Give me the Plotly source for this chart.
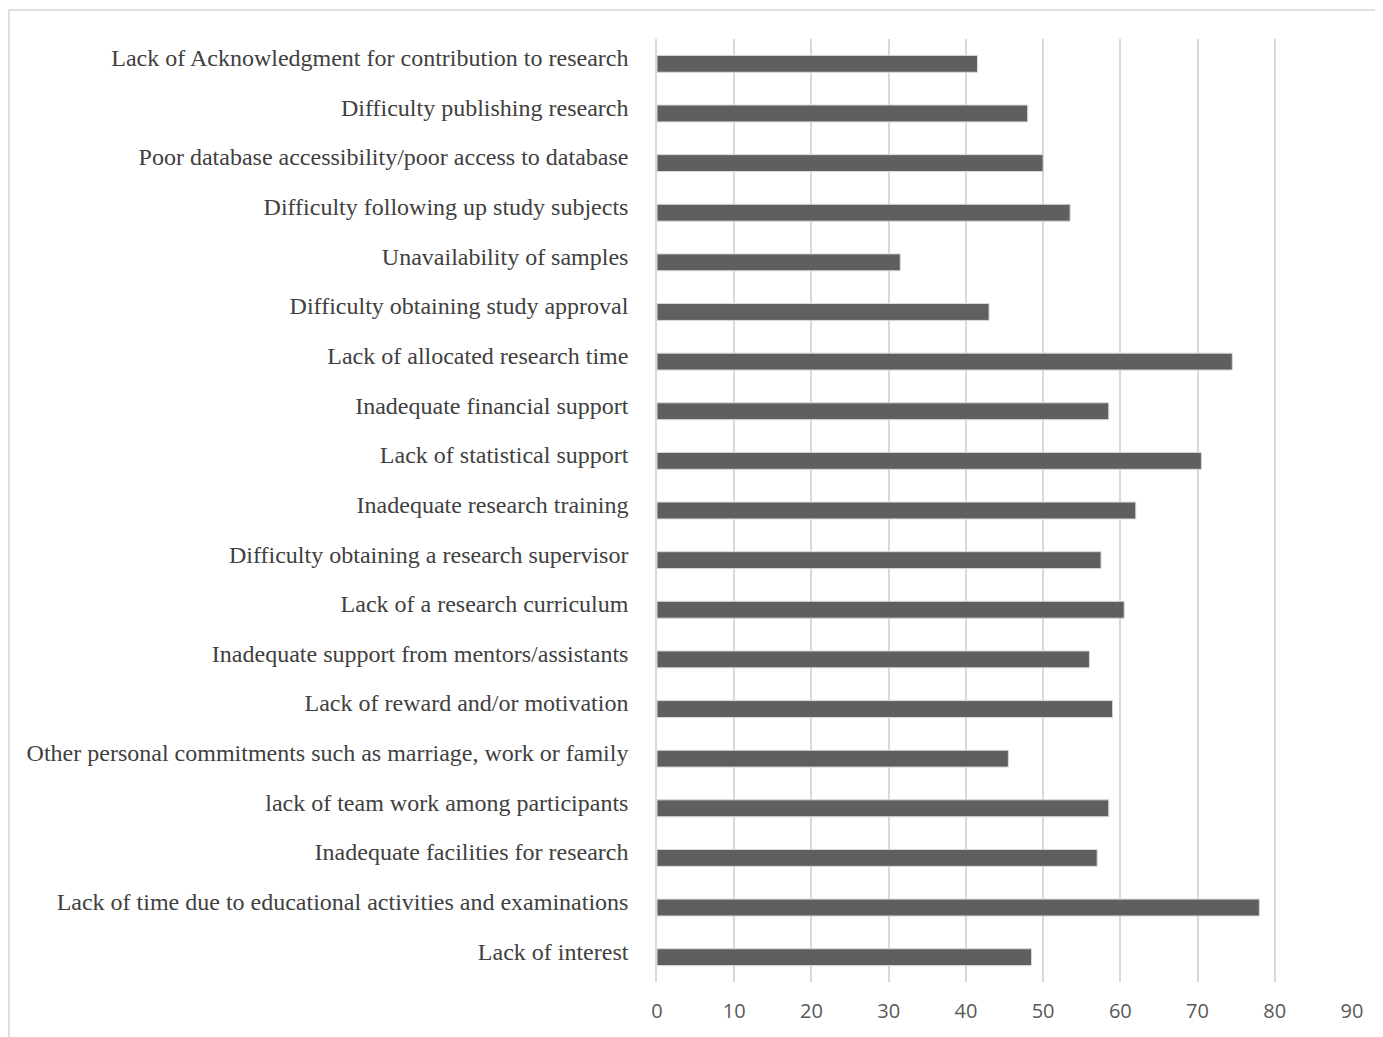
import plotly.graph_objects as go

categories = [
    "Lack of Acknowledgment for contribution to research",
    "Difficulty publishing research",
    "Poor database accessibility/poor access to database",
    "Difficulty following up study subjects",
    "Unavailability of samples",
    "Difficulty obtaining study approval",
    "Lack of allocated research time",
    "Inadequate financial support",
    "Lack of statistical support",
    "Inadequate research training",
    "Difficulty obtaining a research supervisor",
    "Lack of a research curriculum",
    "Inadequate support from mentors/assistants",
    "Lack of reward and/or motivation",
    "Other personal commitments such as marriage, work or family",
    "lack of team work among participants",
    "Inadequate facilities for research",
    "Lack of time due to educational activities and examinations",
    "Lack of interest",
]
values = [41.5, 48.0, 50.0, 53.5, 31.5, 43.0, 74.5, 58.5, 70.5, 62.0,
          57.5, 60.5, 56.0, 59.0, 45.5, 58.5, 57.0, 78.0, 48.5]
x_ticks = [0, 10, 20, 30, 40, 50, 60, 70, 80, 90]

fig = go.Figure(go.Bar(
    x=values, y=categories, orientation="h",
    width=0.34,
    marker=dict(color="#5f5f5f", line=dict(color="#d9d9d9", width=1)),
))

OFF = 8
W, H = 1375, 1029
L = 657 - OFF
R = W - (1352 - OFF)
T = 39 - OFF
B = H - (982 - OFF)
pw = W - L - R
ph = H - T - B

fig.update_layout(
    width=W, height=H,
    margin=dict(l=L, r=R, t=T, b=B, pad=0),
    paper_bgcolor="white", plot_bgcolor="white",
    showlegend=False,
    xaxis=dict(range=[0, 90], tickvals=x_ticks, showgrid=True,
               gridcolor="#d9d9d9", gridwidth=1.5, zeroline=False,
               showline=False, ticks="",
               tickfont=dict(family="Open Sans", size=20, color="#595959"),
               ticklabelstandoff=15, fixedrange=True),
    yaxis=dict(autorange="reversed", showgrid=False, ticks="",
               showline=True, linecolor="#d9d9d9", linewidth=1.5,
               tickfont=dict(family="Liberation Serif", size=24, color="#404040"),
               ticklabelstandoff=22, ticklabelshift=6),
    shapes=[dict(type="rect", xref="paper", yref="paper",
                 x0=(9 - OFF - L) / pw, x1=(W + 20 - L) / pw,
                 y0=-(B + 20) / ph, y1=1 + (T - (10 - OFF)) / ph,
                 line=dict(color="#e0e0e0", width=2), layer="below")],
)

fig.write_html("out.html")
